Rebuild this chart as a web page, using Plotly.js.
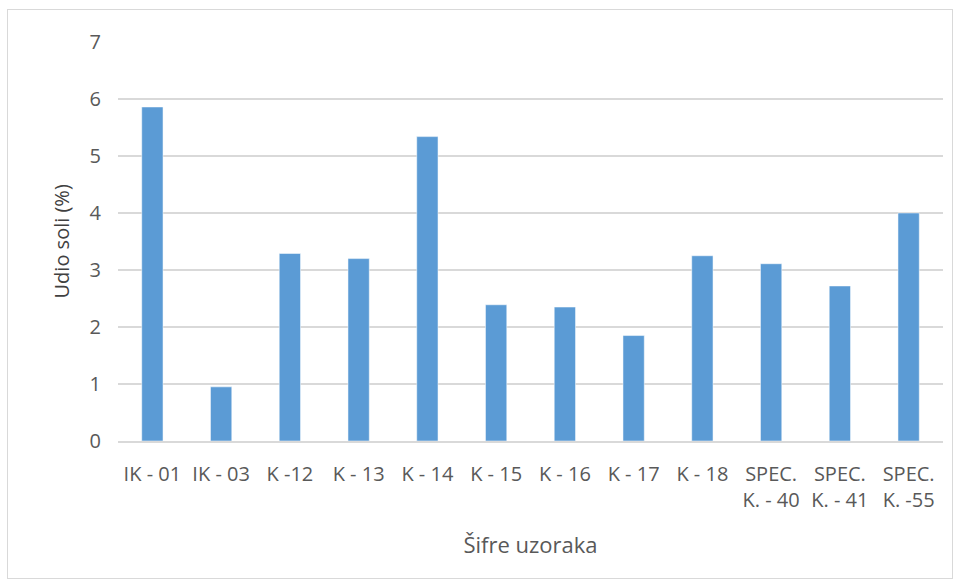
<!DOCTYPE html>
<html>
<head>
<meta charset="utf-8">
<script src="https://cdn.plot.ly/plotly-3.0.1.min.js"></script>
<style>
html,body{margin:0;padding:0;background:#fff;}
#frame{position:absolute;left:7px;top:9px;width:944px;height:568px;border:1px solid #d9d9d9;}
#chart{position:absolute;left:0;top:0;width:959px;height:580px;}
</style>
</head>
<body>
<div id="frame"></div>
<div id="chart"></div>
<script>
const categories = ["IK - 01","IK - 03","K -12","K - 13","K - 14","K - 15","K - 16","K - 17","K - 18","SPEC.<br>K. - 40","SPEC.<br>K. - 41","SPEC.<br>K. -55"];
const values = [5.86, 0.95, 3.29, 3.20, 5.34, 2.39, 2.35, 1.85, 3.25, 3.11, 2.72, 4.00];
const yTicks = [0,1,2,3,4,5,6,7];
const yTitle = 'Udio soli (%)';
const xTitle = 'Šifre uzoraka';

const trace = {
  type: 'bar',
  x: categories,
  y: values,
  marker: {color: '#5b9bd5', line: {color: '#ffffff', width: 0.5}},
  hoverinfo: 'x+y'
};

const layout = {
  width: 959, height: 580,
  paper_bgcolor: 'rgba(0,0,0,0)',
  plot_bgcolor: 'rgba(0,0,0,0)',
  margin: {l: 118, r: 16, t: 42, b: 139},
  bargap: 0.69,
  showlegend: false,
  font: {family: 'Open Sans, sans-serif', color: '#595959', size: 20},
  xaxis: {
    type: 'category',
    tickfont: {size: 20, color: '#595959'},
    showgrid: false,
    showline: true, linecolor: '#d9d9d9', linewidth: 1.5,
    ticks: '',
    ticklabelstandoff: 14,
    title: {text: xTitle, font: {size: 22, color: '#595959'}, standoff: 26}
  },
  yaxis: {
    range: [0, 7],
    tickvals: yTicks,
    ticktext: yTicks.map(String),
    tickfont: {size: 20, color: '#595959'},
    showgrid: true, gridcolor: '#d9d9d9', gridwidth: 1.5,
    zeroline: false,
    showline: false,
    ticks: '',
    ticklabelstandoff: 16
  },
  annotations: [{
    text: yTitle,
    xref: 'paper', yref: 'paper',
    x: -0.0679, y: 0.5,
    xanchor: 'center', yanchor: 'middle',
    textangle: -90,
    showarrow: false,
    font: {size: 20, color: '#404040'}
  }]
};

Plotly.newPlot('chart', [trace], layout, {displayModeBar: false, staticPlot: true});
</script>
</body>
</html>
